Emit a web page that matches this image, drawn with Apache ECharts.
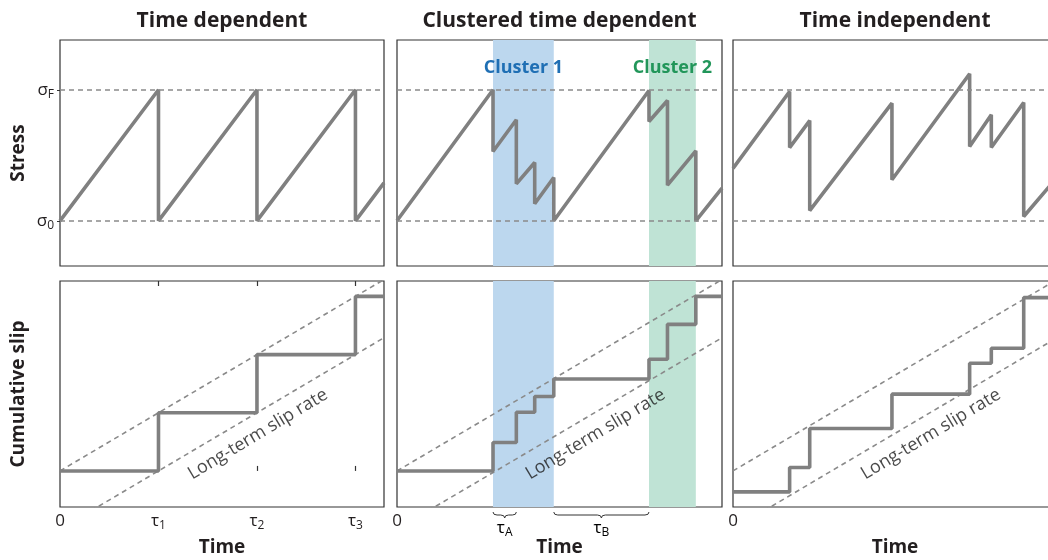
<!DOCTYPE html>
<html><head><meta charset="utf-8">
<script src="https://cdn.jsdelivr.net/npm/echarts@6/dist/echarts.min.js"></script>
<style>html,body{margin:0;padding:0;background:#fff}#c{width:1048px;height:560px}</style>
</head><body><div id="c"></div>
<script>
// ---------- data (time in units of the recurrence interval tau) ----------
const panelTitles = ['Time dependent', 'Clustered time dependent', 'Time independent'];
const stressTD  = [[0,0],[1,1],[1,0],[2,1],[2,0],[3,1],[3,0],[3.29,0.29]];
const stressCTD = [[0,0],[0.972,1],[0.972,0.529],[1.208,0.771],[1.208,0.282],[1.394,0.445],[1.394,0.13],[1.587,0.33],[1.587,0],[2.551,0.995],[2.551,0.758],[2.738,0.918],[2.738,0.272],[3.025,0.534],[3.025,0],[3.29,0.25]];
const stressTI  = [[0,0.4],[0.575,0.987],[0.575,0.559],[0.779,0.765],[0.779,0.078],[1.614,0.898],[1.614,0.313],[2.403,1.122],[2.403,0.567],[2.623,0.809],[2.623,0.559],[2.952,0.903],[2.952,0.033],[3.29,0.33]];
const slipTD  = [[0,0],[1,1],[2,2],[3,3],[3.29,3]];
const slipCTD = [[0,0],[0.972,0.49],[1.208,1.01],[1.394,1.28],[1.587,1.58],[2.551,1.92],[2.738,2.52],[3.025,3.0],[3.29,3.0]];
const slipTI  = [[0,-0.36],[0.575,0.06],[0.779,0.73],[1.614,1.32],[2.403,1.85],[2.623,2.11],[2.952,2.98],[3.29,2.98]];
const rateUpper = [[0,0],[3.29,3.29]];
const rateLower = [[0,-1],[3.29,2.29]];
const stressLevels = [0, 1];             // sigma_0, sigma_F
const stressLevelNames = ['0', 'F'];
const clusterNames = ['Cluster 1', 'Cluster 2'];
const clusterRanges = [[0.972, 1.587], [2.551, 3.025]];
const intervalNames = ['A', 'B'];
const intervalRanges = [[0.972, 1.208], [1.587, 2.551]];
const tickValues = [0, 1, 2, 3];
const tickNames = ['0', '1', '2', '3'];
const rateLabelAt = [2.01, 0.63];
const rateLabelText = 'Long-term slip rate';

// ---------- styles / layout ----------
const FONT = 'Open Sans';
const TXT = '#231f20';
const GRAY = '#808080';
const DASH = '#8a8a8a';
const clusterFill = ['#bcd7ee', '#bfe3d5'];
const clusterText = ['#1f6fb4', '#22965a'];
const lefts = [60, 397, 733], widths = [324, 325, 324];
const tops = [40, 281], H = 226;
const XMAX = 3.29;
const stressRange = [-0.345, 1.38];
const slipRange = [-0.62, 3.265];

const stressData = [stressTD, stressCTD, stressTI];
const slipData = [slipTD, slipCTD, slipTI];

const grid = [], xAxis = [], yAxis = [], series = [];
const sub = {t: {fontSize: 17, fontFamily: FONT, color: TXT, lineHeight: 21},
             s: {fontSize: 12, fontFamily: FONT, color: TXT, verticalAlign: 'bottom', lineHeight: 13}};

for (let r = 0; r < 2; r++) {
  for (let c = 0; c < 3; c++) {
    const i = r * 3 + c;
    grid.push({left: lefts[c], top: tops[r], width: widths[c], height: H, show: true,
      outerBoundsMode: 'none', containLabel: false,
      borderColor: '#333', borderWidth: 1.2, backgroundColor: 'transparent'});
    const xa = {gridIndex: i, type: 'value', min: 0, max: XMAX,
      axisLine: {show: false}, splitLine: {show: false}, axisTick: {show: false},
      axisLabel: {show: false}};
    if (r === 1) {
      xa.name = 'Time'; xa.nameLocation = 'middle'; xa.nameGap = 31;
      xa.nameTextStyle = {fontFamily: FONT, fontWeight: 'bold', fontSize: 19, color: TXT};
      xa.axisLabel = {show: true, customValues: c === 0 ? tickValues : [0], margin: 4,
        formatter: v => { const k = tickValues.indexOf(v); return k === 0 ? '{t|0}' : '{t|τ}{s|' + tickNames[k] + '}'; },
        rich: sub};
      if (c === 0) xa.axisTick = {show: true, inside: true, length: 5, customValues: [1, 2, 3], lineStyle: {color: '#333', width: 1.2}};
    }
    xAxis.push(xa);
    const ya = {gridIndex: i, type: 'value', min: r === 0 ? stressRange[0] : slipRange[0],
      max: r === 0 ? stressRange[1] : slipRange[1],
      axisLine: {show: false}, splitLine: {show: false}, axisTick: {show: false}, axisLabel: {show: false}};
    if (c === 0) {
      ya.name = r === 0 ? 'Stress' : 'Cumulative slip';
      ya.nameLocation = 'middle'; ya.nameGap = 32;
      ya.nameTextStyle = {fontFamily: FONT, fontWeight: 'bold', fontSize: 19, color: TXT};
      if (r === 0) {
        ya.axisLabel = {show: true, customValues: stressLevels, margin: 6,
          formatter: v => '{t|σ}{s|' + stressLevelNames[stressLevels.indexOf(v)] + '}', rich: sub};
        ya.axisTick = {show: true, length: 3, customValues: stressLevels, lineStyle: {color: '#333'}};
      }
    }
    yAxis.push(ya);
  }
}
// top ticks for the bottom-left panel
xAxis.push({gridIndex: 3, type: 'value', position: 'top', min: 0, max: XMAX,
  axisLine: {show: false}, splitLine: {show: false}, axisLabel: {show: false},
  axisTick: {show: true, inside: true, length: 5, customValues: [1, 2, 3], lineStyle: {color: '#333', width: 1.2}}});

const dashStyle = {color: DASH, width: 1.6, type: [5, 4]};
const bandArea = withLabel => ({
  silent: true,
  data: clusterNames.map((n, k) => [
    {name: n, xAxis: clusterRanges[k][0], itemStyle: {color: clusterFill[k], opacity: 1},
     label: {show: withLabel, position: 'insideTop', distance: 19, color: clusterText[k],
       fontFamily: FONT, fontWeight: 'bold', fontSize: 18}},
    {xAxis: clusterRanges[k][1]}])
});

for (let c = 0; c < 3; c++) {
  const s = {type: 'line', xAxisIndex: c, yAxisIndex: c, data: stressData[c], symbol: 'none',
    lineStyle: {color: GRAY, width: 3.6, join: 'miter', miterLimit: 2}, z: 3, animation: false,
    markLine: {silent: true, symbol: 'none', label: {show: false}, lineStyle: dashStyle,
      data: stressLevels.map(v => ({yAxis: v}))}};
  if (c === 1) s.markArea = bandArea(true);
  series.push(s);
  const b = 3 + c;
  series.push({type: 'line', xAxisIndex: b, yAxisIndex: b, data: rateUpper, symbol: 'none', lineStyle: dashStyle, z: 2, animation: false});
  series.push({type: 'line', xAxisIndex: b, yAxisIndex: b, data: rateLower, symbol: 'none', lineStyle: dashStyle, z: 2, animation: false});
  const sl = {type: 'line', xAxisIndex: b, yAxisIndex: b, data: slipData[c], step: 'end', symbol: 'none',
    lineStyle: {color: GRAY, width: 3.6}, z: 3, animation: false};
  if (c === 1) sl.markArea = bandArea(false);
  series.push(sl);
  series.push({type: 'scatter', xAxisIndex: b, yAxisIndex: b, data: [rateLabelAt], symbolSize: 0, silent: true, animation: false,
    label: {show: true, position: 'inside', formatter: rateLabelText, rotate: 31, color: '#1a1a1a', fontFamily: FONT, fontSize: 18}});
}

// braces for recurrence intervals tau_A, tau_B
series.push({type: 'custom', xAxisIndex: 4, yAxisIndex: 4, clip: false, silent: true, animation: false,
  data: intervalRanges.map(r => [r[0], r[1]]),
  renderItem: (params, api) => {
    const p1 = api.coord([api.value(0), 0]), p2 = api.coord([api.value(1), 0]);
    const cs = params.coordSys;
    const y0 = cs.y + cs.height + 5, h = 6, rr = 4;
    const x1 = p1[0], x2 = p2[0], xm = (x1 + x2) / 2;
    const d = `M${x1},${y0} Q${x1},${y0+h/2} ${x1+rr},${y0+h/2} L${xm-rr},${y0+h/2} Q${xm},${y0+h/2} ${xm},${y0+h} ` +
              `Q${xm},${y0+h/2} ${xm+rr},${y0+h/2} L${x2-rr},${y0+h/2} Q${x2},${y0+h/2} ${x2},${y0}`;
    return {type: 'group', children: [
      {type: 'path', shape: {pathData: d}, style: {stroke: '#333', fill: null, lineWidth: 1}},
      {type: 'text', x: xm, y: y0 + h, style: {text: '{t|τ}{s|' + intervalNames[params.dataIndex] + '}',
        align: 'center', verticalAlign: 'top', rich: sub}}
    ]};
  }});

const graphic = panelTitles.map((t, c) => ({type: 'text', x: lefts[c] + widths[c] / 2, y: 21, silent: true,
  style: {text: t, align: 'center', verticalAlign: 'middle', fill: TXT, font: 'bold 21px "' + FONT + '"'}}));

const chart = echarts.init(document.getElementById('c'), null, {renderer: 'canvas'});
chart.setOption({animation: false, grid, xAxis, yAxis, series, graphic});
</script></body></html>
